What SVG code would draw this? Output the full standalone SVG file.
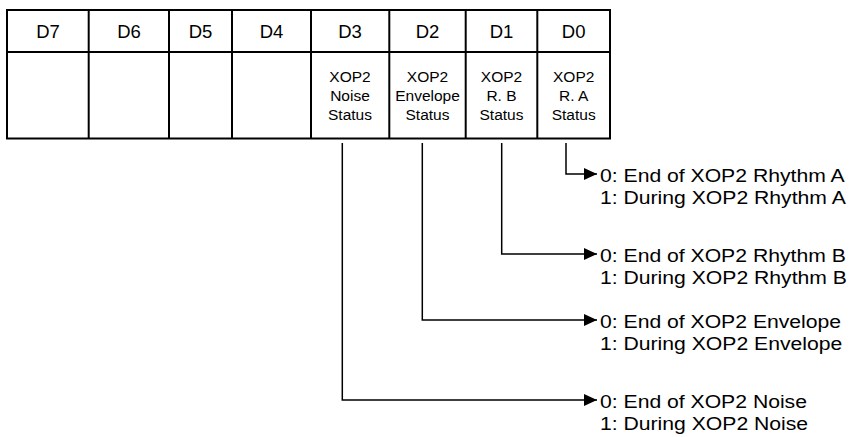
<svg xmlns="http://www.w3.org/2000/svg" width="851" height="437" viewBox="0 0 851 437">
<style>
text{font-family:"Liberation Sans",Arial,Helvetica,sans-serif;fill:#000}
.hd{font-size:18.5px;text-anchor:middle}
.bd{font-size:15.5px;text-anchor:middle}
.ds{font-size:17.5px}
.grid{stroke:#000;stroke-width:2;fill:none}
.conn{stroke:#000;stroke-width:1.5;fill:none}
</style>
<defs>
<marker id="ah" markerWidth="13" markerHeight="12" viewBox="0 0 13 12" refX="13" refY="6" orient="auto" markerUnits="userSpaceOnUse">
<path d="M0,0 L13,6 L0,12 Z" fill="#000"/>
</marker>
</defs>
<rect width="851" height="437" fill="#fff"/>
<g id="table">
<rect class="grid" x="7" y="10" width="603" height="128.5"/>
<line class="grid" x1="7" y1="52" x2="610" y2="52"/>
<line class="grid" x1="88.7" y1="10" x2="88.7" y2="138.5"/>
<line class="grid" x1="169" y1="10" x2="169" y2="138.5"/>
<line class="grid" x1="232" y1="10" x2="232" y2="138.5"/>
<line class="grid" x1="311" y1="10" x2="311" y2="138.5"/>
<line class="grid" x1="389.3" y1="10" x2="389.3" y2="138.5"/>
<line class="grid" x1="465.7" y1="10" x2="465.7" y2="138.5"/>
<line class="grid" x1="537.3" y1="10" x2="537.3" y2="138.5"/>
</g>
<g id="D7"><text class="hd" x="48" y="38">D7</text></g>
<g id="D6"><text class="hd" x="129" y="38">D6</text></g>
<g id="D5"><text class="hd" x="200.5" y="38">D5</text></g>
<g id="D4"><text class="hd" x="271.5" y="38">D4</text></g>
<g id="D3"><text class="hd" x="350" y="38">D3</text>
<text class="bd" x="350" y="82">XOP2</text><text class="bd" x="350" y="101">Noise</text><text class="bd" x="350" y="120">Status</text></g>
<g id="D2"><text class="hd" x="427.5" y="38">D2</text>
<text class="bd" x="427.5" y="82">XOP2</text><text class="bd" x="427.5" y="101">Envelope</text><text class="bd" x="427.5" y="120">Status</text></g>
<g id="D1"><text class="hd" x="501.5" y="38">D1</text>
<text class="bd" x="501.5" y="82">XOP2</text><text class="bd" x="501.5" y="101">R. B</text><text class="bd" x="501.5" y="120">Status</text></g>
<g id="D0"><text class="hd" x="573.7" y="38">D0</text>
<text class="bd" x="573.7" y="82">XOP2</text><text class="bd" x="573.7" y="101">R. A</text><text class="bd" x="573.7" y="120">Status</text></g>
<g id="connectors">
<polyline class="conn" points="566,143 566,174 597,174" marker-end="url(#ah)"/>
<polyline class="conn" points="501.7,143 501.7,254 597,254" marker-end="url(#ah)"/>
<polyline class="conn" points="422.3,143 422.3,320 597,320" marker-end="url(#ah)"/>
<polyline class="conn" points="342.3,143 342.3,400 597,400" marker-end="url(#ah)"/>
</g>
<g id="labels" transform="translate(600 0) scale(1.21 1)">
<g id="lblA"><text class="ds" x="0" y="182">0: End of XOP2 Rhythm A</text><text class="ds" x="0" y="204">1: During XOP2 Rhythm A</text></g>
<g id="lblB"><text class="ds" x="0" y="262">0: End of XOP2 Rhythm B</text><text class="ds" x="0" y="284">1: During XOP2 Rhythm B</text></g>
<g id="lblE"><text class="ds" x="0" y="328">0: End of XOP2 Envelope</text><text class="ds" x="0" y="350">1: During XOP2 Envelope</text></g>
<g id="lblN"><text class="ds" x="0" y="408">0: End of XOP2 Noise</text><text class="ds" x="0" y="430">1: During XOP2 Noise</text></g>
</g>
</svg>
